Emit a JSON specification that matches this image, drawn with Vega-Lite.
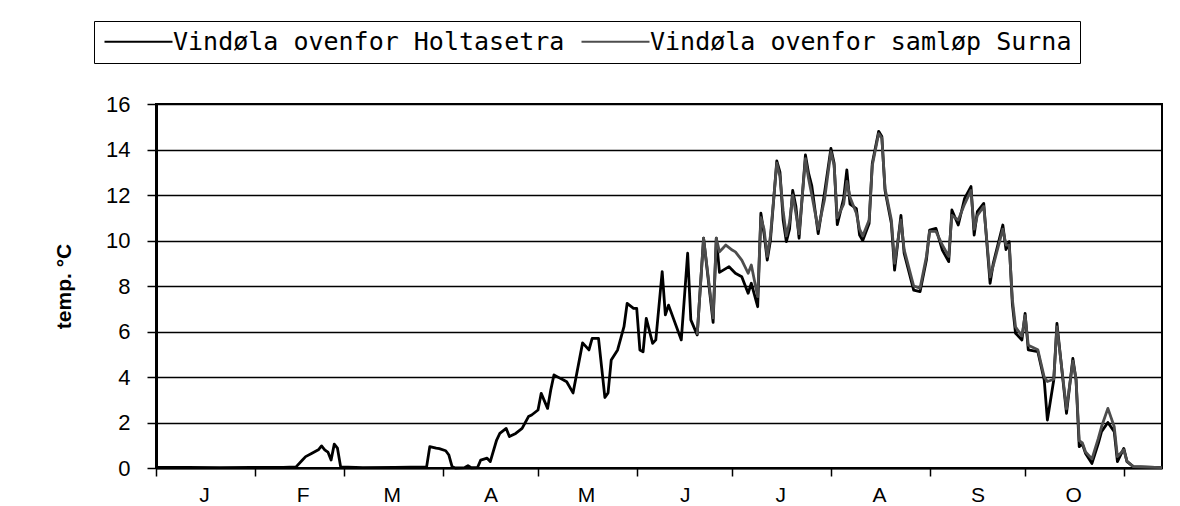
{
  "$schema": "https://vega.github.io/schema/vega-lite/v6.json",
  "autosize": {"type": "none"},
  "width": 1006,
  "height": 364,
  "padding": {"left": 156, "top": 104, "right": 18, "bottom": 38},
  "background": "white",
  "data": {"values": [
    {"date": "2001-01-01", "Vindøla ovenfor Holtasetra": 0.03},
    {"date": "2001-01-11", "Vindøla ovenfor Holtasetra": 0.03},
    {"date": "2001-01-21", "Vindøla ovenfor Holtasetra": 0.02},
    {"date": "2001-01-31", "Vindøla ovenfor Holtasetra": 0.03},
    {"date": "2001-02-10", "Vindøla ovenfor Holtasetra": 0.03},
    {"date": "2001-02-14", "Vindøla ovenfor Holtasetra": 0.05},
    {"date": "2001-02-16", "Vindøla ovenfor Holtasetra": 0.35},
    {"date": "2001-02-17", "Vindøla ovenfor Holtasetra": 0.5},
    {"date": "2001-02-19", "Vindøla ovenfor Holtasetra": 0.65},
    {"date": "2001-02-21", "Vindøla ovenfor Holtasetra": 0.8},
    {"date": "2001-02-22", "Vindøla ovenfor Holtasetra": 0.97},
    {"date": "2001-02-23", "Vindøla ovenfor Holtasetra": 0.8},
    {"date": "2001-02-24", "Vindøla ovenfor Holtasetra": 0.7},
    {"date": "2001-02-25", "Vindøla ovenfor Holtasetra": 0.35},
    {"date": "2001-02-26", "Vindøla ovenfor Holtasetra": 1.05},
    {"date": "2001-02-27", "Vindøla ovenfor Holtasetra": 0.87},
    {"date": "2001-02-28", "Vindøla ovenfor Holtasetra": 0.05},
    {"date": "2001-03-07", "Vindøla ovenfor Holtasetra": 0.02},
    {"date": "2001-03-17", "Vindøla ovenfor Holtasetra": 0.03},
    {"date": "2001-03-27", "Vindøla ovenfor Holtasetra": 0.05},
    {"date": "2001-03-28", "Vindøla ovenfor Holtasetra": 0.94},
    {"date": "2001-03-30", "Vindøla ovenfor Holtasetra": 0.87},
    {"date": "2001-03-31", "Vindøla ovenfor Holtasetra": 0.85},
    {"date": "2001-04-02", "Vindøla ovenfor Holtasetra": 0.76},
    {"date": "2001-04-03", "Vindøla ovenfor Holtasetra": 0.57},
    {"date": "2001-04-04", "Vindøla ovenfor Holtasetra": 0.06},
    {"date": "2001-04-05", "Vindøla ovenfor Holtasetra": 0.0},
    {"date": "2001-04-08", "Vindøla ovenfor Holtasetra": 0.02},
    {"date": "2001-04-09", "Vindøla ovenfor Holtasetra": 0.1},
    {"date": "2001-04-10", "Vindøla ovenfor Holtasetra": 0.01},
    {"date": "2001-04-12", "Vindøla ovenfor Holtasetra": 0.02},
    {"date": "2001-04-13", "Vindøla ovenfor Holtasetra": 0.35},
    {"date": "2001-04-15", "Vindøla ovenfor Holtasetra": 0.43},
    {"date": "2001-04-16", "Vindøla ovenfor Holtasetra": 0.28},
    {"date": "2001-04-18", "Vindøla ovenfor Holtasetra": 1.23},
    {"date": "2001-04-19", "Vindøla ovenfor Holtasetra": 1.52},
    {"date": "2001-04-21", "Vindøla ovenfor Holtasetra": 1.74},
    {"date": "2001-04-22", "Vindøla ovenfor Holtasetra": 1.38},
    {"date": "2001-04-24", "Vindøla ovenfor Holtasetra": 1.52},
    {"date": "2001-04-26", "Vindøla ovenfor Holtasetra": 1.74},
    {"date": "2001-04-28", "Vindøla ovenfor Holtasetra": 2.26},
    {"date": "2001-04-29", "Vindøla ovenfor Holtasetra": 2.33},
    {"date": "2001-05-01", "Vindøla ovenfor Holtasetra": 2.55},
    {"date": "2001-05-02", "Vindøla ovenfor Holtasetra": 3.28},
    {"date": "2001-05-04", "Vindøla ovenfor Holtasetra": 2.62},
    {"date": "2001-05-05", "Vindøla ovenfor Holtasetra": 3.43},
    {"date": "2001-05-06", "Vindøla ovenfor Holtasetra": 4.09},
    {"date": "2001-05-08", "Vindøla ovenfor Holtasetra": 3.94},
    {"date": "2001-05-09", "Vindøla ovenfor Holtasetra": 3.87},
    {"date": "2001-05-10", "Vindøla ovenfor Holtasetra": 3.79},
    {"date": "2001-05-12", "Vindøla ovenfor Holtasetra": 3.3},
    {"date": "2001-05-15", "Vindøla ovenfor Holtasetra": 5.5},
    {"date": "2001-05-17", "Vindøla ovenfor Holtasetra": 5.19},
    {"date": "2001-05-18", "Vindøla ovenfor Holtasetra": 5.7},
    {"date": "2001-05-20", "Vindøla ovenfor Holtasetra": 5.7},
    {"date": "2001-05-21", "Vindøla ovenfor Holtasetra": 4.4},
    {"date": "2001-05-22", "Vindøla ovenfor Holtasetra": 3.1},
    {"date": "2001-05-23", "Vindøla ovenfor Holtasetra": 3.3},
    {"date": "2001-05-24", "Vindøla ovenfor Holtasetra": 4.75},
    {"date": "2001-05-26", "Vindøla ovenfor Holtasetra": 5.19},
    {"date": "2001-05-28", "Vindøla ovenfor Holtasetra": 6.21},
    {"date": "2001-05-29", "Vindøla ovenfor Holtasetra": 7.24},
    {"date": "2001-05-31", "Vindøla ovenfor Holtasetra": 7.02},
    {"date": "2001-06-01", "Vindøla ovenfor Holtasetra": 7.02},
    {"date": "2001-06-02", "Vindøla ovenfor Holtasetra": 5.19},
    {"date": "2001-06-03", "Vindøla ovenfor Holtasetra": 5.11},
    {"date": "2001-06-04", "Vindøla ovenfor Holtasetra": 6.58},
    {"date": "2001-06-06", "Vindøla ovenfor Holtasetra": 5.48},
    {"date": "2001-06-07", "Vindøla ovenfor Holtasetra": 5.63},
    {"date": "2001-06-09", "Vindøla ovenfor Holtasetra": 8.63},
    {"date": "2001-06-10", "Vindøla ovenfor Holtasetra": 6.73},
    {"date": "2001-06-11", "Vindøla ovenfor Holtasetra": 7.16},
    {"date": "2001-06-15", "Vindøla ovenfor Holtasetra": 5.63},
    {"date": "2001-06-17", "Vindøla ovenfor Holtasetra": 9.44},
    {"date": "2001-06-18", "Vindøla ovenfor Holtasetra": 6.51},
    {"date": "2001-06-20", "Vindøla ovenfor Holtasetra": 5.85, "Vindøla ovenfor samløp Surna": 5.85},
    {"date": "2001-06-22", "Vindøla ovenfor Holtasetra": 10.1, "Vindøla ovenfor samløp Surna": 10.1},
    {"date": "2001-06-25", "Vindøla ovenfor Holtasetra": 6.4, "Vindøla ovenfor samløp Surna": 6.6},
    {"date": "2001-06-26", "Vindøla ovenfor Holtasetra": 10.1, "Vindøla ovenfor samløp Surna": 10.1},
    {"date": "2001-06-27", "Vindøla ovenfor Holtasetra": 8.6, "Vindøla ovenfor samløp Surna": 9.5},
    {"date": "2001-06-29", "Vindøla ovenfor samløp Surna": 9.8},
    {"date": "2001-06-30", "Vindøla ovenfor Holtasetra": 8.85},
    {"date": "2001-07-01", "Vindøla ovenfor samløp Surna": 9.58},
    {"date": "2001-07-02", "Vindøla ovenfor Holtasetra": 8.56, "Vindøla ovenfor samløp Surna": 9.5},
    {"date": "2001-07-04", "Vindøla ovenfor Holtasetra": 8.41, "Vindøla ovenfor samløp Surna": 9.14},
    {"date": "2001-07-06", "Vindøla ovenfor Holtasetra": 7.68, "Vindøla ovenfor samløp Surna": 8.56},
    {"date": "2001-07-07", "Vindøla ovenfor Holtasetra": 8.12, "Vindøla ovenfor samløp Surna": 8.92},
    {"date": "2001-07-09", "Vindøla ovenfor Holtasetra": 7.09, "Vindøla ovenfor samløp Surna": 7.53},
    {"date": "2001-07-10", "Vindøla ovenfor Holtasetra": 11.2, "Vindøla ovenfor samløp Surna": 11.0},
    {"date": "2001-07-11", "Vindøla ovenfor Holtasetra": 10.3, "Vindøla ovenfor samløp Surna": 10.5},
    {"date": "2001-07-12", "Vindøla ovenfor Holtasetra": 9.14, "Vindøla ovenfor samløp Surna": 9.3},
    {"date": "2001-07-13", "Vindøla ovenfor Holtasetra": 10.0, "Vindøla ovenfor samløp Surna": 10.2},
    {"date": "2001-07-15", "Vindøla ovenfor Holtasetra": 13.5, "Vindøla ovenfor samløp Surna": 13.4},
    {"date": "2001-07-16", "Vindøla ovenfor Holtasetra": 13.0, "Vindøla ovenfor samløp Surna": 12.8},
    {"date": "2001-07-17", "Vindøla ovenfor Holtasetra": 10.9, "Vindøla ovenfor samløp Surna": 11.3},
    {"date": "2001-07-18", "Vindøla ovenfor Holtasetra": 9.95, "Vindøla ovenfor samløp Surna": 10.2},
    {"date": "2001-07-19", "Vindøla ovenfor Holtasetra": 10.5, "Vindøla ovenfor samløp Surna": 10.8},
    {"date": "2001-07-20", "Vindøla ovenfor Holtasetra": 12.2, "Vindøla ovenfor samløp Surna": 12.0},
    {"date": "2001-07-21", "Vindøla ovenfor Holtasetra": 11.5, "Vindøla ovenfor samløp Surna": 11.2},
    {"date": "2001-07-22", "Vindøla ovenfor Holtasetra": 10.1, "Vindøla ovenfor samløp Surna": 10.3},
    {"date": "2001-07-24", "Vindøla ovenfor Holtasetra": 13.76, "Vindøla ovenfor samløp Surna": 13.6},
    {"date": "2001-07-25", "Vindøla ovenfor Holtasetra": 12.95, "Vindøla ovenfor samløp Surna": 12.7},
    {"date": "2001-07-26", "Vindøla ovenfor Holtasetra": 12.4, "Vindøla ovenfor samløp Surna": 12.0},
    {"date": "2001-07-28", "Vindøla ovenfor Holtasetra": 10.3, "Vindøla ovenfor samløp Surna": 10.5},
    {"date": "2001-07-30", "Vindøla ovenfor Holtasetra": 12.1, "Vindøla ovenfor samløp Surna": 11.8},
    {"date": "2001-08-01", "Vindøla ovenfor Holtasetra": 14.05, "Vindøla ovenfor samløp Surna": 13.9},
    {"date": "2001-08-02", "Vindøla ovenfor Holtasetra": 13.4, "Vindøla ovenfor samløp Surna": 13.3},
    {"date": "2001-08-03", "Vindøla ovenfor Holtasetra": 10.7, "Vindøla ovenfor samløp Surna": 11.0},
    {"date": "2001-08-05", "Vindøla ovenfor Holtasetra": 11.85, "Vindøla ovenfor samløp Surna": 11.6},
    {"date": "2001-08-06", "Vindøla ovenfor Holtasetra": 13.1, "Vindøla ovenfor samløp Surna": 12.6},
    {"date": "2001-08-07", "Vindøla ovenfor Holtasetra": 11.6, "Vindøla ovenfor samløp Surna": 11.9},
    {"date": "2001-08-09", "Vindøla ovenfor Holtasetra": 11.4, "Vindøla ovenfor samløp Surna": 11.2},
    {"date": "2001-08-10", "Vindøla ovenfor Holtasetra": 10.24, "Vindøla ovenfor samløp Surna": 10.5},
    {"date": "2001-08-11", "Vindøla ovenfor Holtasetra": 10.0, "Vindøla ovenfor samløp Surna": 10.2},
    {"date": "2001-08-13", "Vindøla ovenfor Holtasetra": 10.75, "Vindøla ovenfor samløp Surna": 10.9},
    {"date": "2001-08-14", "Vindøla ovenfor Holtasetra": 13.4, "Vindøla ovenfor samløp Surna": 13.3},
    {"date": "2001-08-16", "Vindøla ovenfor Holtasetra": 14.8, "Vindøla ovenfor samløp Surna": 14.7},
    {"date": "2001-08-17", "Vindøla ovenfor Holtasetra": 14.57, "Vindøla ovenfor samløp Surna": 14.5},
    {"date": "2001-08-18", "Vindøla ovenfor Holtasetra": 12.2, "Vindøla ovenfor samløp Surna": 12.3},
    {"date": "2001-08-20", "Vindøla ovenfor Holtasetra": 10.75, "Vindøla ovenfor samløp Surna": 10.9},
    {"date": "2001-08-21", "Vindøla ovenfor Holtasetra": 8.7, "Vindøla ovenfor samløp Surna": 9.0},
    {"date": "2001-08-23", "Vindøla ovenfor Holtasetra": 11.1, "Vindøla ovenfor samløp Surna": 10.9},
    {"date": "2001-08-24", "Vindøla ovenfor Holtasetra": 9.44, "Vindøla ovenfor samløp Surna": 9.6},
    {"date": "2001-08-27", "Vindøla ovenfor Holtasetra": 7.82, "Vindøla ovenfor samløp Surna": 8.0},
    {"date": "2001-08-29", "Vindøla ovenfor Holtasetra": 7.75, "Vindøla ovenfor samløp Surna": 7.9},
    {"date": "2001-08-31", "Vindøla ovenfor Holtasetra": 9.14, "Vindøla ovenfor samløp Surna": 9.3},
    {"date": "2001-09-01", "Vindøla ovenfor Holtasetra": 10.46, "Vindøla ovenfor samløp Surna": 10.4},
    {"date": "2001-09-03", "Vindøla ovenfor Holtasetra": 10.53, "Vindøla ovenfor samløp Surna": 10.4},
    {"date": "2001-09-05", "Vindøla ovenfor Holtasetra": 9.58, "Vindøla ovenfor samløp Surna": 9.8},
    {"date": "2001-09-07", "Vindøla ovenfor Holtasetra": 9.07, "Vindøla ovenfor samløp Surna": 9.3},
    {"date": "2001-09-08", "Vindøla ovenfor Holtasetra": 11.34, "Vindøla ovenfor samløp Surna": 11.1},
    {"date": "2001-09-10", "Vindøla ovenfor Holtasetra": 10.68, "Vindøla ovenfor samløp Surna": 10.9},
    {"date": "2001-09-12", "Vindøla ovenfor Holtasetra": 11.85, "Vindøla ovenfor samløp Surna": 11.6},
    {"date": "2001-09-14", "Vindøla ovenfor Holtasetra": 12.37, "Vindøla ovenfor samløp Surna": 12.2},
    {"date": "2001-09-15", "Vindøla ovenfor Holtasetra": 10.24, "Vindøla ovenfor samløp Surna": 10.5},
    {"date": "2001-09-16", "Vindøla ovenfor Holtasetra": 11.27, "Vindøla ovenfor samløp Surna": 11.1},
    {"date": "2001-09-18", "Vindøla ovenfor Holtasetra": 11.63, "Vindøla ovenfor samløp Surna": 11.5},
    {"date": "2001-09-20", "Vindøla ovenfor Holtasetra": 8.12, "Vindøla ovenfor samløp Surna": 8.4},
    {"date": "2001-09-21", "Vindøla ovenfor Holtasetra": 9.0, "Vindøla ovenfor samløp Surna": 8.9},
    {"date": "2001-09-24", "Vindøla ovenfor Holtasetra": 10.68, "Vindøla ovenfor samløp Surna": 10.5},
    {"date": "2001-09-25", "Vindøla ovenfor Holtasetra": 9.6, "Vindøla ovenfor samløp Surna": 9.8},
    {"date": "2001-09-26", "Vindøla ovenfor Holtasetra": 9.95, "Vindøla ovenfor samløp Surna": 9.8},
    {"date": "2001-09-27", "Vindøla ovenfor Holtasetra": 7.2, "Vindøla ovenfor samløp Surna": 7.4},
    {"date": "2001-09-28", "Vindøla ovenfor Holtasetra": 5.92, "Vindøla ovenfor samløp Surna": 6.2},
    {"date": "2001-09-30", "Vindøla ovenfor Holtasetra": 5.63, "Vindøla ovenfor samløp Surna": 5.8},
    {"date": "2001-10-01", "Vindøla ovenfor Holtasetra": 6.8, "Vindøla ovenfor samløp Surna": 6.7},
    {"date": "2001-10-02", "Vindøla ovenfor Holtasetra": 5.19, "Vindøla ovenfor samløp Surna": 5.4},
    {"date": "2001-10-05", "Vindøla ovenfor Holtasetra": 5.11, "Vindøla ovenfor samløp Surna": 5.2},
    {"date": "2001-10-07", "Vindøla ovenfor Holtasetra": 3.87, "Vindøla ovenfor samløp Surna": 4.0},
    {"date": "2001-10-08", "Vindøla ovenfor Holtasetra": 2.11, "Vindøla ovenfor samløp Surna": 3.8},
    {"date": "2001-10-10", "Vindøla ovenfor Holtasetra": 3.87, "Vindøla ovenfor samløp Surna": 3.9},
    {"date": "2001-10-11", "Vindøla ovenfor Holtasetra": 6.36, "Vindøla ovenfor samløp Surna": 6.2},
    {"date": "2001-10-14", "Vindøla ovenfor Holtasetra": 2.4, "Vindøla ovenfor samløp Surna": 2.6},
    {"date": "2001-10-16", "Vindøla ovenfor Holtasetra": 4.82, "Vindøla ovenfor samløp Surna": 4.7},
    {"date": "2001-10-17", "Vindøla ovenfor Holtasetra": 3.87, "Vindøla ovenfor samløp Surna": 3.9},
    {"date": "2001-10-18", "Vindøla ovenfor Holtasetra": 0.94, "Vindøla ovenfor samløp Surna": 1.2},
    {"date": "2001-10-19", "Vindøla ovenfor Holtasetra": 1.05, "Vindøla ovenfor samløp Surna": 1.1},
    {"date": "2001-10-20", "Vindøla ovenfor Holtasetra": 0.64, "Vindøla ovenfor samløp Surna": 0.7},
    {"date": "2001-10-22", "Vindøla ovenfor Holtasetra": 0.2, "Vindøla ovenfor samløp Surna": 0.4},
    {"date": "2001-10-24", "Vindøla ovenfor Holtasetra": 1.08, "Vindøla ovenfor samløp Surna": 1.3},
    {"date": "2001-10-25", "Vindøla ovenfor Holtasetra": 1.6, "Vindøla ovenfor samløp Surna": 1.81},
    {"date": "2001-10-27", "Vindøla ovenfor Holtasetra": 2.0, "Vindøla ovenfor samløp Surna": 2.62},
    {"date": "2001-10-29", "Vindøla ovenfor Holtasetra": 1.6, "Vindøla ovenfor samløp Surna": 1.81},
    {"date": "2001-10-30", "Vindøla ovenfor Holtasetra": 0.28, "Vindøla ovenfor samløp Surna": 0.5},
    {"date": "2001-11-01", "Vindøla ovenfor Holtasetra": 0.86, "Vindøla ovenfor samløp Surna": 0.8},
    {"date": "2001-11-02", "Vindøla ovenfor Holtasetra": 0.28, "Vindøla ovenfor samløp Surna": 0.3},
    {"date": "2001-11-04", "Vindøla ovenfor Holtasetra": 0.06, "Vindøla ovenfor samløp Surna": 0.06},
    {"date": "2001-11-13", "Vindøla ovenfor Holtasetra": 0.02, "Vindøla ovenfor samløp Surna": 0.02}
  ]},
  "transform": [
    {"fold": ["Vindøla ovenfor Holtasetra", "Vindøla ovenfor samløp Surna"], "as": ["site", "temp"]},
    {"filter": "isValid(datum.temp)"}
  ],
  "mark": {"type": "line", "strokeWidth": 2.8, "strokeJoin": "round"},
  "encoding": {
    "x": {
      "field": "date",
      "type": "temporal",
      "scale": {
        "type": "utc",
        "domain": [
          {"year": 2001, "month": 1, "date": 1, "utc": true},
          {"year": 2001, "month": 11, "date": 13, "utc": true}
        ]
      },
      "axis": {
        "title": null,
        "grid": false,
        "values": [
          {"year": 2001, "month": 1, "date": 1, "utc": true},
          {"year": 2001, "month": 2, "date": 1, "utc": true},
          {"year": 2001, "month": 3, "date": 1, "utc": true},
          {"year": 2001, "month": 4, "date": 1, "utc": true},
          {"year": 2001, "month": 5, "date": 1, "utc": true},
          {"year": 2001, "month": 6, "date": 1, "utc": true},
          {"year": 2001, "month": 7, "date": 1, "utc": true},
          {"year": 2001, "month": 8, "date": 1, "utc": true},
          {"year": 2001, "month": 9, "date": 1, "utc": true},
          {"year": 2001, "month": 10, "date": 1, "utc": true},
          {"year": 2001, "month": 11, "date": 1, "utc": true}
        ],
        "labelExpr": "utcmonth(datum.value) == 10 ? '' : substring(utcFormat(datum.value, '%b'), 0, 1)",
        "labelOffset": 48,
        "labelPadding": 8,
        "labelFontSize": 21,
        "labelFlush": false,
        "labelOverlap": false,
        "tickSize": 8,
        "tickWidth": 1.5,
        "domainWidth": 2
      }
    },
    "y": {
      "field": "temp",
      "type": "quantitative",
      "scale": {"domain": [0, 16], "nice": false, "zero": true},
      "axis": {
        "title": "temp. °C",
        "titleFontWeight": "bold",
        "titlePadding": 31,
        "values": [0, 2, 4, 6, 8, 10, 12, 14, 16],
        "grid": true,
        "gridWidth": 1.5,
        "gridColor": "black",
        "domainWidth": 3,
        "tickSize": 9,
        "tickWidth": 1.5,
        "labelPadding": 17
      }
    },
    "color": {
      "field": "site",
      "type": "nominal",
      "scale": {
        "domain": ["Vindøla ovenfor Holtasetra", "Vindøla ovenfor samløp Surna"],
        "range": ["#000000", "#4d4d4d"]
      },
      "legend": {
        "title": null,
        "orient": "none",
        "legendX": -62,
        "legendY": -83,
        "direction": "horizontal",
        "symbolType": "M-1,0H5.8",
        "symbolSize": 400,
        "symbolStrokeWidth": 2,
        "labelFont": "DejaVu Sans Mono",
        "labelFontSize": 25,
        "labelColor": "black",
        "labelOffset": 46,
        "labelLimit": 800,
        "columnPadding": 12,
        "padding": 8,
        "strokeColor": "black",
        "fillColor": "white"
      }
    }
  },
  "config": {
    "view": {"stroke": "black", "strokeWidth": 2},
    "axis": {
      "labelFont": "Liberation Sans",
      "labelFontSize": 22,
      "labelColor": "black",
      "titleFont": "Liberation Sans",
      "titleFontSize": 21,
      "titleColor": "black",
      "domainColor": "black",
      "tickColor": "black"
    }
  }
}
